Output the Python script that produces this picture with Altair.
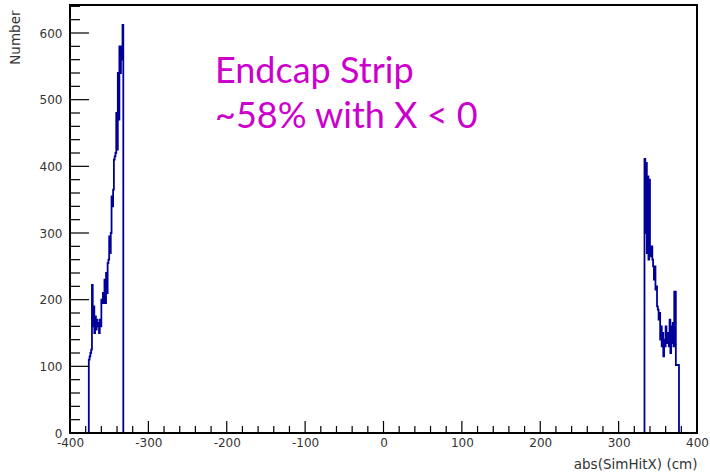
import altair as alt
import pandas as pd

# ---- data ----
x_tick_labels = [-400, -300, -200, -100, 0, 100, 200, 300, 400]
y_tick_labels = [0, 100, 200, 300, 400, 500, 600]

bin_width = 1  # cm
left_first_bin = -376
left_counts = [110, 115, 120, 125, 222, 160, 190, 150, 175, 155,
               170, 160, 165, 150, 170, 160, 200, 195, 210, 195,
               230, 195, 240, 210, 255, 260, 295, 270, 300, 355,
               340, 365, 410, 415, 420, 480, 425, 540, 470, 580,
               540, 560, 580, 612]
right_first_bin = 333
right_counts = [411, 300, 405, 270, 385, 260, 380, 280, 265, 280,
                260, 250, 230, 250, 215, 220, 190, 185, 170, 180,
                140, 160, 130, 150, 115, 140, 130, 160, 135, 150,
                140, 130, 170, 120, 160, 135, 165, 130, 212, 212,
                102, 102, 102, 102]

annotation_text = "Endcap Strip\n~58% with X < 0"
x_title = "abs(SimHitX) (cm)"
y_title = "Number"

# ---- build histogram outline table ----
rows = []
for name, start, counts in [("neg", left_first_bin, left_counts),
                            ("pos", right_first_bin, right_counts)]:
    rows.append({"peak": name, "edge": start, "count": 0, "order": 0})
    for i, c in enumerate(counts):
        rows.append({"peak": name, "edge": start + i * bin_width, "count": c, "order": i + 1})
    rows.append({"peak": name, "edge": start + len(counts) * bin_width, "count": 0,
                 "order": len(counts) + 1})
hist_df = pd.DataFrame(rows)

W, H = 627, 428
XMIN, XMAX = -400, 400
YMAX = 642
FONT = "DejaVu Sans"

xscale = alt.Scale(domain=[XMIN, XMAX], nice=False, zero=False)
yscale = alt.Scale(domain=[0, YMAX], nice=False)

x_axis = alt.Axis(
    values=x_tick_labels, ticks=False, domain=False, grid=False,
    labelExpr="'' + datum.value", labelPadding=4, labelFontSize=12,
    labelFont=FONT, labelColor="#333", labelFlush=False,
    title=x_title, titleFont=FONT, titleFontSize=13.5, titleFontWeight="normal",
    titleColor="#333", titleAnchor="end", titleAlign="right",
    titleBaseline="middle", titleX=W, titleY=31)
y_axis = alt.Axis(
    values=y_tick_labels, ticks=False, domain=False, grid=False,
    labelPadding=8, labelFontSize=12, labelFont=FONT, labelColor="#333",
    labelFlush=False,
    title=y_title, titleFont=FONT, titleFontSize=13.5, titleFontWeight="normal",
    titleColor="#333", titleAngle=270, titleAlign="right",
    titleBaseline="middle", titleX=-55, titleY=5)

hist = alt.Chart(hist_df).mark_line(
    interpolate="step-after", color="#000099", strokeWidth=1.8
).encode(
    x=alt.X("edge:Q", scale=xscale, axis=x_axis),
    y=alt.Y("count:Q", scale=yscale, axis=y_axis),
    detail="peak:N",
    order="order:Q",
)

# inner ticks (ROOT style)
xt = pd.DataFrame({"edge": list(range(XMIN, XMAX + 1, 20))})
xt_major = xt[xt.edge % 100 == 0]
xt_minor = xt[xt.edge % 100 != 0]
yt = pd.DataFrame({"count": list(range(0, 641, 20))})
yt_major = yt[yt["count"] % 100 == 0]
yt_minor = yt[yt["count"] % 100 != 0]

def xticks(df, length):
    return alt.Chart(df).mark_rule(color="black", strokeWidth=1.2).encode(
        x=alt.X("edge:Q", scale=xscale, axis=x_axis),
        y=alt.value(H), y2=alt.value(H - length))

def yticks(df, length):
    return alt.Chart(df).mark_rule(color="black", strokeWidth=1.2).encode(
        y=alt.Y("count:Q", scale=yscale, axis=y_axis),
        x=alt.value(0), x2=alt.value(length))

frame = alt.Chart(pd.DataFrame({"a": [0]})).mark_rect(
    filled=False, stroke="black", strokeWidth=2
).encode(x=alt.value(0), x2=alt.value(W), y=alt.value(0), y2=alt.value(H))

note = alt.Chart(pd.DataFrame({"a": [0]})).mark_text(
    align="left", baseline="alphabetic", lineBreak="\n", lineHeight=45,
    font="Lato", fontSize=36, color="#CC00CC"
).encode(x=alt.value(145), y=alt.value(78), text=alt.value(annotation_text))

chart = alt.layer(
    hist, xticks(xt_major, 12), xticks(xt_minor, 7),
    yticks(yt_major, 19), yticks(yt_minor, 10), frame, note
).properties(
    width=W, height=H,
    autosize=alt.AutoSizeParams(type="none"),
    padding={"left": 70, "top": 5, "right": 13, "bottom": 41},
    background="white",
).configure_view(stroke=None)

chart.save("out.html", embed_options={"renderer": "svg", "actions": False})
